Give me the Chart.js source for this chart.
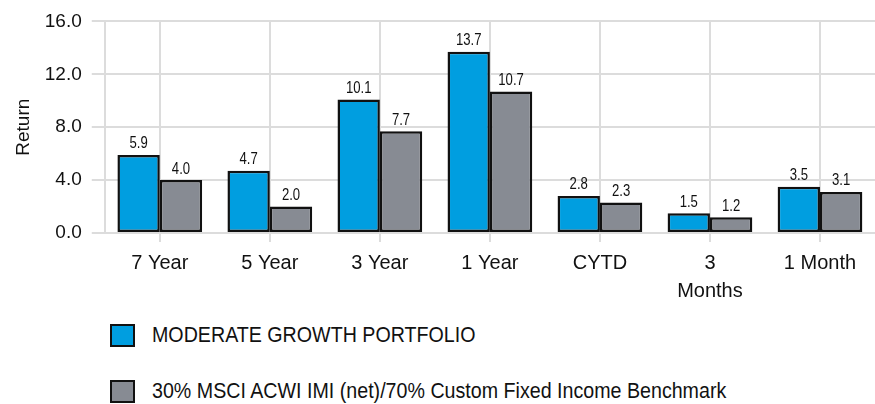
<!DOCTYPE html>
<html><head><meta charset="utf-8">
<script src="https://cdn.jsdelivr.net/npm/chart.js@4"></script>
<style>
html,body{margin:0;padding:0;background:#fff;width:875px;height:404px;overflow:hidden;font-family:"Liberation Sans",Arial,sans-serif;}
#wrap{position:absolute;left:0;top:0;width:875px;height:312px;}
.leg{position:absolute;left:110px;display:flex;align-items:center;color:#111;}
.box{width:21px;height:19px;border:2px solid #111;margin-right:17px;}
.txt{font-size:22px;display:inline-block;transform:scaleX(0.893);transform-origin:left center;white-space:nowrap;}
</style></head>
<body>
<div id="wrap"><canvas id="c"></canvas></div>
<div class="leg" style="top:322px"><div class="box" style="background:#009EE0"></div><span class="txt">MODERATE GROWTH PORTFOLIO</span></div>
<div class="leg" style="top:378px"><div class="box" style="background:#878B93"></div><span class="txt">30% MSCI ACWI IMI (net)/70% Custom Fixed Income Benchmark</span></div>
<script>
const categories = [["7 Year"], ["5 Year"], ["3 Year"], ["1 Year"], ["CYTD"], ["3", "Months"], ["1 Month"]];
const portfolioValues = [5.9, 4.7, 10.1, 13.7, 2.8, 1.5, 3.5];
const benchmarkValues = [4.0, 2.0, 7.7, 10.7, 2.3, 1.2, 3.1];
const seriesNames = ["MODERATE GROWTH PORTFOLIO", "30% MSCI ACWI IMI (net)/70% Custom Fixed Income Benchmark"];
const yTicks = [0, 4, 8, 12, 16];

const FONT = '"Liberation Sans",Arial,sans-serif';

const valueLabels = {
  id: 'valueLabels',
  afterDatasetsDraw(chart) {
    const ctx = chart.ctx;
    chart.data.datasets.forEach((ds, i) => {
      chart.getDatasetMeta(i).data.forEach((bar, j) => {
        ctx.save();
        ctx.font = '16px ' + FONT;
        ctx.fillStyle = '#111';
        ctx.textAlign = 'center';
        ctx.textBaseline = 'bottom';
        ctx.translate(bar.x, bar.y - 3);
        ctx.scale(0.82, 1);
        ctx.fillText(ds.data[j].toFixed(1), 0, 0);
        ctx.restore();
      });
    });
  }
};

new Chart(document.getElementById('c'), {
  type: 'bar',
  data: {
    labels: categories,
    datasets: [
      { label: seriesNames[0], data: portfolioValues, backgroundColor: '#009EE0', borderColor: '#111', borderWidth: 2.5, borderSkipped: false },
      { label: seriesNames[1], data: benchmarkValues, backgroundColor: '#878B93', borderColor: '#111', borderWidth: 2.5, borderSkipped: false }
    ]
  },
  options: {
    responsive: true,
    maintainAspectRatio: false,
    animation: false,
    layout: { padding: { top: 7, right: 0, left: 12, bottom: 0 } },
    plugins: { legend: { display: false }, tooltip: { enabled: false } },
    datasets: { bar: { categoryPercentage: 0.77, barPercentage: 1.0 } },
    scales: {
      x: {
        grid: { offset: false, color: '#dcdcdc', lineWidth: 2, tickLength: 9 },
        border: { display: false },
        ticks: { color: '#111', font: { family: FONT, size: 20, lineHeight: 1.4 }, padding: 7, maxRotation: 0, autoSkip: false }
      },
      y: {
        min: 0, max: 16,
        afterBuildTicks(axis) { axis.ticks = yTicks.map(v => ({ value: v })); },
        grid: { color: '#dcdcdc', lineWidth: 2, tickLength: 13 },
        border: { color: '#dcdcdc', width: 2 },
        ticks: { color: '#111', font: { family: FONT, size: 19 }, padding: 10, callback: v => Number(v).toFixed(1) },
        title: { display: true, text: 'Return', color: '#111', font: { family: FONT, size: 19 }, padding: { top: 0, bottom: 0 } }
      }
    }
  },
  plugins: [valueLabels]
});
</script>
</body></html>
